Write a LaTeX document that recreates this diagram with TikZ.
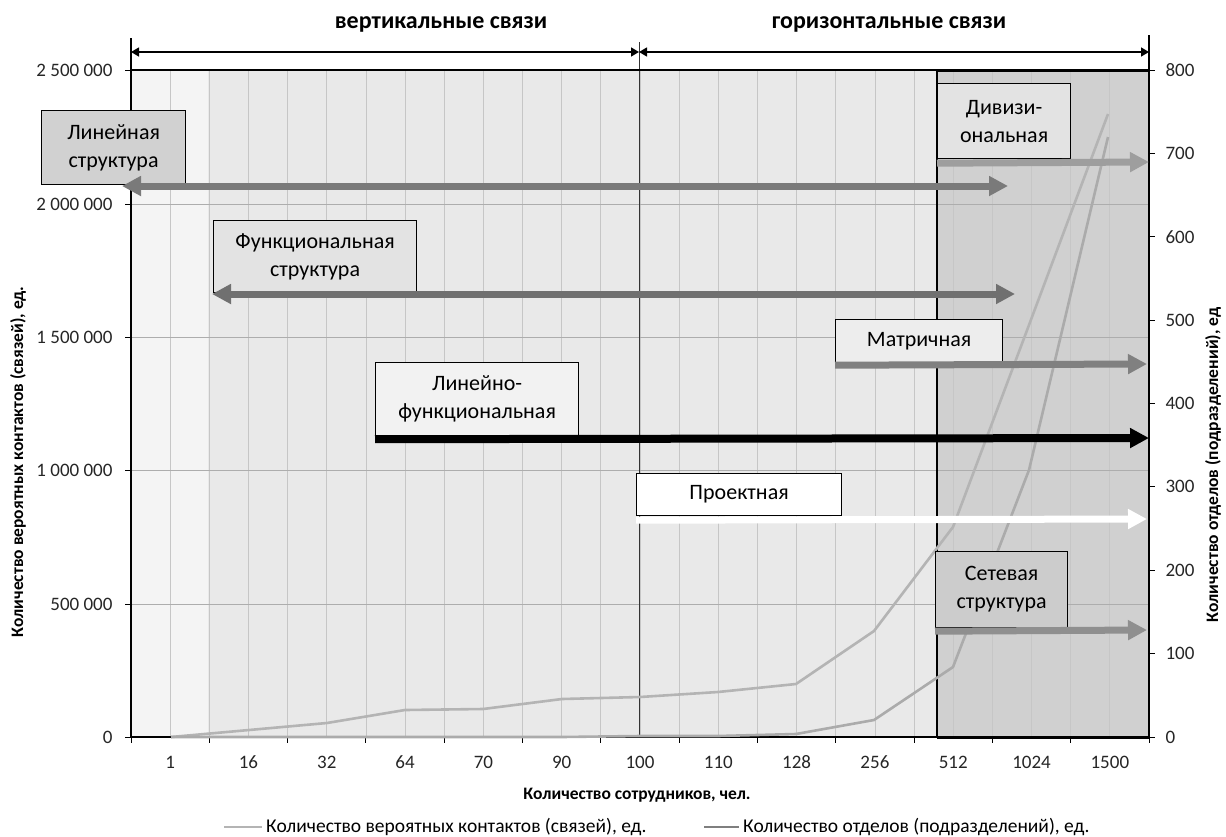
\documentclass[tikz,border=0pt]{standalone}
\usepackage{fontspec}
\setmainfont{Carlito}
\usetikzlibrary{arrows.meta}
\definecolor{colbg}{HTML}{FFFFFF}
\definecolor{colfirst}{HTML}{F4F4F4}
\definecolor{coltex}{HTML}{E9E9E9}
\definecolor{coldark}{HTML}{D0D0D0}
\definecolor{colgrid}{HTML}{C6C6C6}
\definecolor{colhgrid}{HTML}{ADADAD}
\definecolor{colcurA}{HTML}{B4B4B4}
\definecolor{colcurB}{HTML}{ABABAB}
\definecolor{colLegB}{HTML}{7F7F7F}
\begin{document}
\begin{tikzpicture}[x=1pt,y=-1pt,
  box/.style={draw=black, line width=1.2pt, align=center, anchor=north west, inner sep=0pt,
    font=\fontsize{22}{28}\selectfont},
  bigarrow/.style={line width=7pt, -{Triangle[length=19pt,width=19pt]}},
  bigdarrow/.style={line width=7pt, {Triangle[length=19pt,width=19pt]}-{Triangle[length=19pt,width=19pt]}},
  dimarrow/.style={line width=1.4pt, {Triangle[length=8pt,width=9pt]}-{Triangle[length=8pt,width=9pt]}},
  gridv/.style={draw=colgrid, line width=0.8pt},
  gridh/.style={draw=colhgrid, line width=1pt},
  axisnum/.style={font=\fontsize{19}{22}\selectfont, text=black!85},
  axtitle/.style={font=\bfseries\fontsize{17.5}{20}\selectfont},
  toptitle/.style={font=\bfseries\fontsize{24}{28}\selectfont},
  legtext/.style={font=\fontsize{19.5}{22}\selectfont, anchor=west, inner sep=1pt},
  curve/.style={line width=2.6pt, line join=round},
]
\useasboundingbox[fill=colbg] (0,0) rectangle (1226,836);

% plot background
\fill[colfirst] (131,70) rectangle (208,737);
\fill[coltex] (208,70) rectangle (937,737);
\fill[coldark] (937,70) rectangle (1149,737);

% vertical grid
\foreach \k in {1,...,25} \draw[gridv] ({131+\k*39.154},70) -- ++(0,667);
% horizontal grid
\foreach \yy in {204,337,470,604} \draw[gridh] (131,\yy) -- (1149,\yy);

% dark region border
\draw[black, line width=1.2pt] (937,70) -- (937,737);
\draw[black, line width=3pt] (937,70) -- (1149,70);
\draw[black, line width=3pt] (937,737) -- (1149,737);

% divider between vertical / horizontal links
\draw[black!80, line width=1pt] (639,42) -- (639,737);

% axes
\coordinate (axTL) at (131,38);
\coordinate (axBL) at (131,737);
\coordinate (axTR) at (1149,35);
\coordinate (axBR) at (1149,737);
\draw[black, line width=1.2pt] (131,70) -- (1149,70);
\draw[black, line width=1.6pt] (axTL) -- (axBL);
\draw[black, line width=1.6pt] (axTR) -- (axBR);
\draw[black, line width=1.8pt] (axBL) -- (axBR);

% left ticks and labels
\foreach \v/\yy in {2 500 000/70, 2 000 000/204, 1 500 000/337, 1 000 000/470, 500 000/604, 0/737}{
  \draw[black, line width=1pt] (125,\yy) -- (131,\yy);
  \node[axisnum, anchor=east] at (116,\yy) {\v};
}
% right ticks and labels
\foreach \v [count=\i from 0] in {0,100,200,300,400,500,600,700,800}{
  \draw[black, line width=1pt] (1149,{737-\i*83.375}) -- (1155,{737-\i*83.375});
  \node[axisnum, anchor=west] at (1162,{737-\i*83.375}) {\v};
}
% bottom ticks and labels
\foreach \k in {0,...,13} \draw[black, line width=1pt] ({131+78.308*\k},737) -- ++(0,6);
\foreach \lab [count=\i from 0] in {1,16,32,64,70,90,100,110,128,256,512,1024,1500}
  \node[axisnum] (xl\i) at ({131+39.154*(2*\i+1)},762) {\lab};

% curves
\draw[curve, colcurA] (171,737) -- (249,730) -- (327,723) -- (405,710) -- (483,709) -- (562,699)
  -- (640,697) -- (718,692) -- (796,684) -- (874,631) -- (953,527) -- (1029,325) -- (1108,114);
\draw[curve, colcurB] (171,737) -- (249,737) -- (327,737) -- (405,737) -- (483,737) -- (562,737)
  -- (640,736) -- (718,736) -- (796,734) -- (874,720) -- (953,667) -- (1029,470) -- (1108,137);

% top dimension arrows
\coordinate (dimL) at (131,52);
\coordinate (dimM) at (639,52);
\coordinate (dimR) at (1149,52);
\draw[dimarrow] (dimL) -- (dimM);
\draw[dimarrow] (dimM) -- (dimR);
\node[toptitle] (tvert) at (441,24) {вертикальные связи};
\node[toptitle] (thor) at (889,24) {горизонтальные связи};

% boxes
\node[box, fill=black!18, minimum width=144pt, minimum height=74pt] (lin) at (41,110) {Линейная\\структура};
\node[box, fill=black!11, minimum width=203pt, minimum height=72pt] (fun) at (213,220) {Функциональная\\структура};
\node[box, fill=black!5, minimum width=203pt, minimum height=73pt] (linfun) at (375,362) {Линейно-\\функциональная};
\node[box, fill=white, minimum width=205pt, minimum height=42pt] (proj) at (636,473) {Проектная};
\node[box, fill=black!7, minimum width=167pt, minimum height=43pt] (matr) at (835,319) {Матричная};
\node[box, fill=black!11, minimum width=133pt, minimum height=75pt] (div) at (937,83) {Дивизи-\\ональная};
\node[box, fill=black!20, minimum width=132pt, minimum height=76pt] (set) at (935,551) {Сетевая\\структура};

% arrows of the structures
\coordinate (linA) at (122,186);   \coordinate (linB) at (1008,186);
\coordinate (funA) at (212,294);   \coordinate (funB) at (1015,294);
\coordinate (lfB) at (1149,438);
\coordinate (projB) at (1147,519);
\coordinate (matB) at (1147,364);
\coordinate (divB) at (1149,162);
\coordinate (setB) at (1147,630);
\draw[bigdarrow, black!52] (linA) -- (linB);
\draw[bigdarrow, black!56] (funA) -- (funB);
\draw[bigarrow, black, line width=8pt] ([yshift=-3pt]linfun.south west) -- (lfB);
\draw[bigarrow, white] ([yshift=-4pt]proj.south west) -- (projB);
\draw[bigarrow, black!50] ([yshift=-2pt]matr.south west) -- (matB);
\draw[bigarrow, black!38] ([yshift=-4pt]div.south west) -- (divB);
\draw[bigarrow, black!44] ([yshift=-3pt]set.south west) -- (setB);

% axis titles
\node[axtitle, rotate=90] (ytl) at (18,462) {Количество вероятных контактов (связей), ед.};
\node[axtitle, rotate=90] (ytr) at (1213,465) {Количество отделов (подразделений), ед};
\node[axtitle] (xt) at (637,795) {Количество сотрудников, чел.};

% legend
\coordinate (lgA1) at (224,827); \coordinate (lgA2) at (262,827);
\coordinate (lgB1) at (704,827); \coordinate (lgB2) at (739,827);
\draw[colcurA, line width=2.6pt] (lgA1) -- (lgA2);
\node[legtext] (lgA) at (265,827) {Количество вероятных контактов (связей), ед.};
\draw[colLegB, line width=2.6pt] (lgB1) -- (lgB2);
\node[legtext] (lgB) at (742,827) {Количество отделов (подразделений), ед.};
\end{tikzpicture}
\end{document}
